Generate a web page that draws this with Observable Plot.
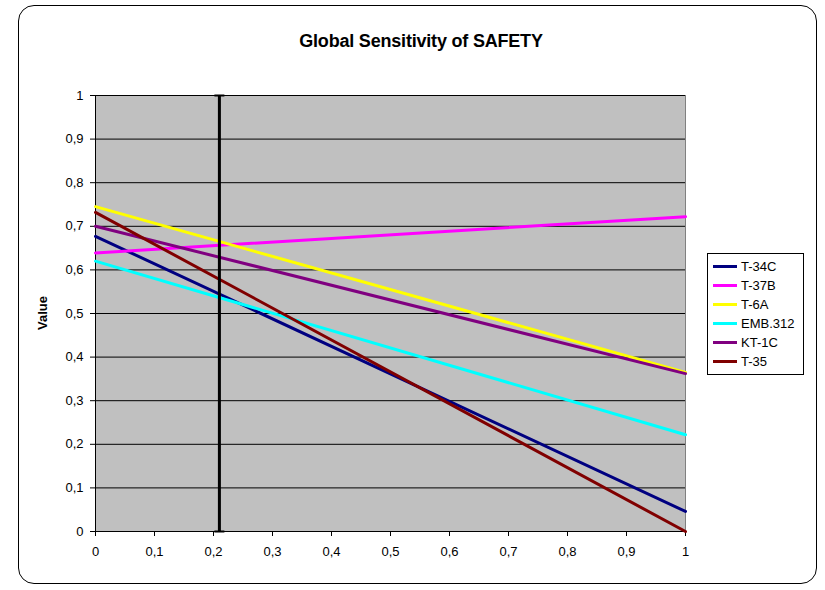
<!DOCTYPE html>
<html>
<head>
<meta charset="utf-8">
<script src="https://cdn.jsdelivr.net/npm/d3@7"></script>
<script src="https://cdn.jsdelivr.net/npm/@observablehq/plot@0.6"></script>
<style>
  html, body { margin: 0; padding: 0; background: #fff; }
  body { width: 825px; height: 590px; position: relative; overflow: hidden; font-family: Arial, "Liberation Sans", sans-serif; }
  #frame { position: absolute; left: 18px; top: 5px; width: 799px; height: 579px; border: 1px solid #000; border-radius: 16px; box-sizing: border-box; }
  #chart { position: absolute; left: 0; top: 0; }
  #title { position: absolute; left: 0; width: 842px; top: 31px; text-align: center; font-weight: bold; font-size: 18px; color: #000; letter-spacing: -0.2px; }
  #ylabel { position: absolute; left: 42px; top: 313px; transform: translate(-50%, -50%) rotate(-90deg); font-weight: bold; font-size: 13px; white-space: nowrap; }
  #legend { position: absolute; left: 707px; top: 253px; width: 97px; border: 1px solid #000; background: #fff; box-sizing: border-box; padding: 3px 0; }
  .row { height: 19px; display: flex; align-items: center; font-size: 13px; }
  .sw { width: 24px; height: 3px; margin-left: 5px; margin-right: 4px; }
</style>
</head>
<body>
<div id="frame"></div>
<div id="chart"></div>
<div id="title">Global Sensitivity of SAFETY</div>
<div id="ylabel">Value</div>
<div id="legend"></div>
<script>
// Data
const xValues = [0, 1];
const seriesNames = ["T-34C", "T-37B", "T-6A", "EMB.312", "KT-1C", "T-35"];
const seriesColors = ["#000080", "#FF00FF", "#FFFF00", "#00FFFF", "#800080", "#800000"];
const t34c = [0.677, 0.046];
const t37b = [0.639, 0.722];
const t6a = [0.745, 0.365];
const emb312 = [0.620, 0.222];
const kt1c = [0.700, 0.362];
const t35 = [0.732, 0.000];
const seriesValues = [t34c, t37b, t6a, emb312, kt1c, t35];
const currentWeight = 0.21;
const xTicks = [0, 0.1, 0.2, 0.3, 0.4, 0.5, 0.6, 0.7, 0.8, 0.9, 1];
const yTicks = [0, 0.1, 0.2, 0.3, 0.4, 0.5, 0.6, 0.7, 0.8, 0.9, 1];

const rows = [];
seriesNames.forEach((name, i) => {
  xValues.forEach((x, j) => rows.push({series: name, x, y: seriesValues[i][j]}));
});

const fmt = d => String(+d.toFixed(1)).replace(".", ",");
const capSymbol = { draw(ctx, size) { const w = 5; ctx.moveTo(-w, 0); ctx.lineTo(w, 0); } };

const chart = Plot.plot({
  width: 825,
  height: 590,
  marginLeft: 95,
  marginRight: 140,
  marginTop: 95,
  marginBottom: 59,
  style: { fontFamily: "Arial, 'Liberation Sans', sans-serif", fontSize: "13px", background: "transparent", color: "#000" },
  x: { domain: [0, 1], ticks: xTicks, tickFormat: fmt, tickSize: 5, tickPadding: 10, label: null },
  y: { domain: [0, 1], ticks: yTicks, tickFormat: fmt, tickSize: 5, tickPadding: 7, label: null },
  color: { domain: seriesNames, range: seriesColors },
  marks: [
    Plot.frame({ fill: "#C0C0C0", stroke: "#808080" }),
    Plot.gridY(yTicks.slice(1), { stroke: "#000", strokeOpacity: 1, strokeWidth: 1 }),
    Plot.ruleX([0], { stroke: "#000" }),
    Plot.ruleY([0], { stroke: "#000" }),
    Plot.axisX({ ticks: xTicks, tickFormat: fmt, tickSize: 5, tickPadding: 10, stroke: "#000" }),
    Plot.axisY({ ticks: yTicks, tickFormat: fmt, tickSize: 5, tickPadding: 7, stroke: "#000" }),
    Plot.line(rows, { x: "x", y: "y", z: "series", stroke: "series", strokeWidth: 3 }),
    Plot.ruleX([currentWeight], { y1: 0, y2: 1, stroke: "#000", strokeWidth: 3 }),
    Plot.dot([{x: currentWeight, y: 0}, {x: currentWeight, y: 1}], { x: "x", y: "y", symbol: capSymbol, stroke: "#000", strokeWidth: 2, fill: "none", r: 5 })
  ]
});
document.getElementById("chart").appendChild(chart);

const legend = document.getElementById("legend");
seriesNames.forEach((name, i) => {
  const row = document.createElement("div");
  row.className = "row";
  const sw = document.createElement("div");
  sw.className = "sw";
  sw.style.background = seriesColors[i];
  const label = document.createElement("span");
  label.textContent = name;
  row.appendChild(sw);
  row.appendChild(label);
  legend.appendChild(row);
});
</script>
</body>
</html>
